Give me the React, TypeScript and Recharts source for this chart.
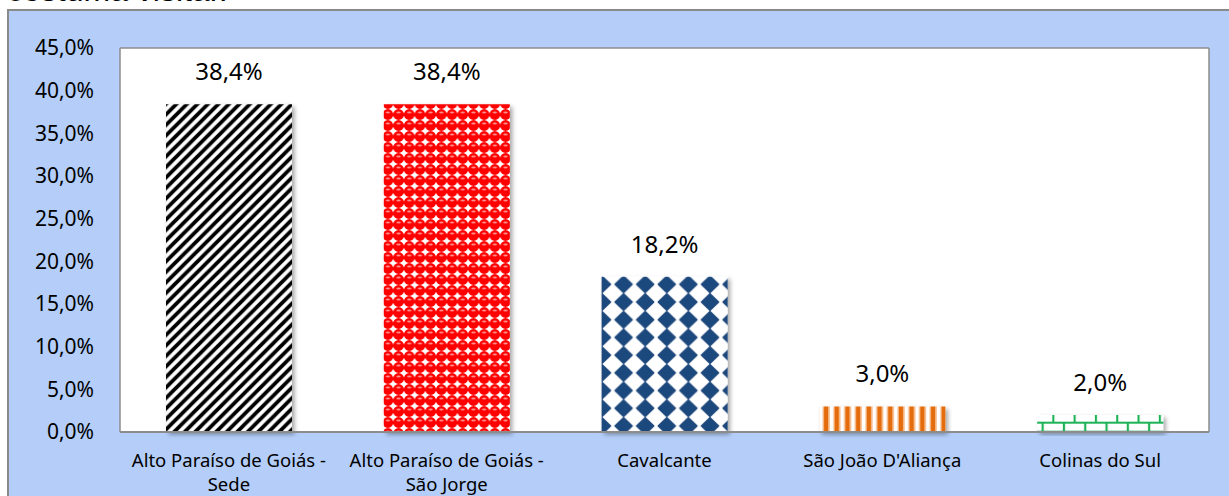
import React from "react";
import { BarChart, Bar, XAxis, YAxis, CartesianGrid, Cell, LabelList } from "recharts";

const categories = [
  "Alto Paraíso de Goiás - Sede",
  "Alto Paraíso de Goiás - São Jorge",
  "Cavalcante",
  "São João D'Aliança",
  "Colinas do Sul",
];
const values = [38.4, 38.4, 18.2, 3.0, 2.0];
const yTicks = [0, 5, 10, 15, 20, 25, 30, 35, 40, 45];
const patterns = ["url(#pStripe)", "url(#pDots)", "url(#pDiamond)", "url(#pOrange)", "url(#pBrick)"];

const data = categories.map((c, i) => ({ name: c, value: values[i] }));

const fmt = (v: number) => v.toFixed(1).replace(".", ",") + "%";
const FONT = "'Noto Sans', 'Open Sans', sans-serif";

const CatTick = (props: any) => {
  const { x, y, payload } = props;
  const s: string = payload.value;
  const idx = s.indexOf(" - ");
  const lines = idx >= 0 ? [s.slice(0, idx + 2), s.slice(idx + 3)] : [s];
  return (
    <g transform={`translate(${x},${y})`}>
      {lines.map((l, i) => (
        <text key={i} x={0} y={27 + i * 23.5} textAnchor="middle" fontSize={18.5} fontFamily={FONT} fill="#000">
          {l}
        </text>
      ))}
    </g>
  );
};

export default function App() {
  return (
    <div style={{ position: "absolute", left: 0, top: 0, width: 1229, height: 496, overflow: "hidden", background: "#fff" }}>
      <div
        style={{
          position: "absolute",
          left: 7,
          top: -28,
          fontFamily: "'Liberation Sans', Arial, sans-serif",
          fontSize: 32,
          lineHeight: "37px",
          whiteSpace: "nowrap",
          color: "#000",
        }}
      >
        costuma visitar.
      </div>
      <div
        style={{
          position: "absolute",
          left: 7,
          top: 9,
          width: 1240,
          height: 500,
          background: "#B4CEF9",
          borderLeft: "2px solid #8A8A8A",
          borderTop: "2px solid #8A8A8A",
          boxSizing: "border-box",
        }}
      />
      <div style={{ position: "absolute", left: 8, top: 10 }}>
        <BarChart
          width={1221}
          height={486}
          data={data}
          margin={{ top: 38, right: 19, left: 0, bottom: 0 }}
          barSize={126}
        >
          <defs>
            <filter id="shadow" x="-10%" y="-10%" width="130%" height="130%">
              <feDropShadow dx="2.5" dy="2.5" stdDeviation="2" floodColor="#000" floodOpacity="0.35" />
            </filter>
            <pattern id="pStripe" patternUnits="userSpaceOnUse" width="10.5" height="10.5">
              <rect width="10.5" height="10.5" fill="#fff" />
              <path d="M-2.5,2.5 L2.5,-2.5 M0,10.5 L10.5,0 M8,13 L13,8" stroke="#000" strokeWidth="3.8" />
            </pattern>
            <pattern id="pDots" patternUnits="userSpaceOnUse" width="10.7" height="11">
              <rect width="10.7" height="11" fill="#fff" />
              <circle cx="5.35" cy="5.5" r="5.4" fill="#FF0000" />
              <ellipse cx="5.35" cy="3.4" rx="2.2" ry="1" fill="#FF8F8F" />
            </pattern>
            <pattern id="pDiamond" patternUnits="userSpaceOnUse" width="21.6" height="17.7">
              <rect width="21.6" height="17.7" fill="#fff" />
              <path d="M10.8,0.9 L19,8.85 L10.8,16.8 L2.6,8.85 Z" fill="#1F497D" stroke="#1F497D" strokeWidth="2" strokeLinejoin="round" />
            </pattern>
            <pattern id="pOrange" patternUnits="userSpaceOnUse" width="10.7" height="10">
              <rect width="10.7" height="10" fill="#fff" />
              <rect x="1.5" width="1.2" height="10" fill="#F6B37A" />
              <rect x="2.7" width="4.6" height="10" fill="#E46C0A" />
              <rect x="7.3" width="1.2" height="10" fill="#F6B37A" />
            </pattern>
            <pattern id="pBrick" patternUnits="userSpaceOnUse" x="0.6" y="7.7" width="21.3" height="18">
              <rect width="21.3" height="18" fill="#fff" />
              <path d="M0,0 H21.3 M0,9 H21.3 M0,18 H21.3 M1,0 V9 M11.65,9 V18" stroke="#1DB356" strokeWidth="2.2" />
            </pattern>
          </defs>
          <CartesianGrid vertical={false} stroke="#8C8C8C" strokeWidth={1.5} fill="#fff" fillOpacity={1} />
          <XAxis
            dataKey="name"
            axisLine={{ stroke: "#8C8C8C", strokeWidth: 2 }}
            tickLine={false}
            height={64}
            interval={0}
            tick={<CatTick />}
          />
          <YAxis
            yAxisId="left"
            domain={[0, 45]}
            ticks={yTicks}
            tickFormatter={fmt}
            width={112}
            axisLine={{ stroke: "#8C8C8C", strokeWidth: 1.5 }}
            tickLine={false}
            tick={{ fill: "#000", fontSize: 21, fontFamily: FONT }}
            tickMargin={20}
          />
          <YAxis
            yAxisId="right"
            orientation="right"
            domain={[0, 45]}
            ticks={yTicks}
            width={1}
            axisLine={{ stroke: "#8C8C8C", strokeWidth: 1.5 }}
            tickLine={false}
            tick={false}
          />
          <Bar dataKey="value" yAxisId="left" isAnimationActive={false}>
            {data.map((d, i) => (
              <Cell key={d.name} fill={patterns[i]} filter="url(#shadow)" />
            ))}
            <LabelList
              dataKey="value"
              position="top"
              offset={24}
              formatter={(v: any) => fmt(Number(v))}
              fill="#000"
              fontSize={24}
              fontFamily={FONT}
            />
          </Bar>
        </BarChart>
      </div>
    </div>
  );
}
